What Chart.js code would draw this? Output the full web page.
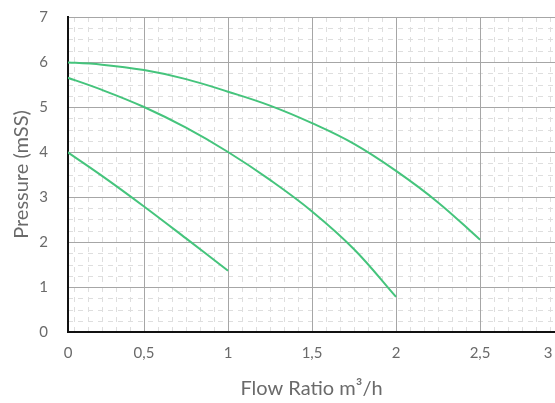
<!DOCTYPE html>
<html>
<head>
<meta charset="utf-8">
<script src="https://cdn.jsdelivr.net/npm/chart.js@4.4.0/dist/chart.umd.min.js"></script>
<style>
  html, body { margin: 0; padding: 0; background: #fff; }
</style>
</head>
<body>
<canvas id="myChart" width="555" height="403"></canvas>
<script>
// pump curves, flow in m3/h, pressure in mSS
const flowA = [0, 0.25, 0.5, 0.75, 1, 1.25, 1.5, 1.75, 2, 2.25, 2.5];
const pressA = [6.0, 5.94, 5.82, 5.62, 5.34, 5.03, 4.64, 4.18, 3.58, 2.88, 2.05];
const flowB = [0, 0.25, 0.5, 0.75, 1, 1.25, 1.5, 1.75, 2];
const pressB = [5.71, 5.38, 5.0, 4.54, 4.0, 3.38, 2.68, 1.84, 0.78];
const flowC = [0, 0.25, 0.5, 0.75, 1];
const pressC = [4.11, 3.47, 2.79, 2.08, 1.36];

const xTickLabels = ['0', '0,5', '1', '1,5', '2', '2,5', '3'];
const xMin = 0.0476, xMax = 2.946;
const xTickValues = [xMin, 0.5, 1, 1.5, 2, 2.5, 2.905];

const lineColor = '#45c47c';
const textColor = '#6a6a6a';
const fontName = 'Lato';

function curve(xs, ys) {
    return {
        data: xs.map((x, i) => ({ x: x, y: ys[i] })),
        borderColor: lineColor,
        borderWidth: 2,
        pointRadius: 0,
        fill: false,
        tension: 0.4
    };
}

// light dashed texture behind the grid
const texture = {
    id: 'texture',
    beforeDraw(chart) {
        const { ctx, chartArea: a, scales: { x, y } } = chart;
        ctx.save();
        ctx.beginPath();
        ctx.rect(a.left, a.top, a.right - a.left, a.bottom - a.top);
        ctx.clip();
        ctx.strokeStyle = '#dedede';
        ctx.lineWidth = 1;
        ctx.setLineDash([5, 5]);
        for (let v = 0; v <= 3; v += 1 / 12) {
            const px = Math.round(x.getPixelForValue(v)) + 0.5;
            ctx.beginPath(); ctx.moveTo(px, a.top); ctx.lineTo(px, a.bottom); ctx.stroke();
        }
        for (let v = 0; v <= 7; v += 0.25) {
            const py = Math.round(y.getPixelForValue(v)) + 0.5;
            ctx.beginPath(); ctx.moveTo(a.left, py); ctx.lineTo(a.right, py); ctx.stroke();
        }
        ctx.restore();
    }
};

const ctx = document.getElementById('myChart').getContext('2d');
const myChart = new Chart(ctx, {
    type: 'line',
    data: {
        datasets: [curve(flowA, pressA), curve(flowB, pressB), curve(flowC, pressC)]
    },
    plugins: [texture],
    options: {
        responsive: false,
        animation: false,
        devicePixelRatio: 1,
        layout: { padding: { top: 17, left: 0, right: 0, bottom: 0 } },
        plugins: { legend: { display: false }, tooltip: { enabled: false } },
        scales: {
            x: {
                type: 'linear',
                min: xMin,
                max: xMax,
                afterBuildTicks: s => { s.ticks = xTickValues.map(v => ({ value: v })); },
                afterFit: s => { s.height = 71; s.paddingLeft = 0; s.paddingRight = 0; },
                ticks: {
                    autoSkip: false,
                    maxRotation: 0,
                    padding: 12,
                    color: textColor,
                    font: { family: fontName, size: 15 },
                    callback: (v, i) => xTickLabels[i]
                },
                grid: {
                    color: c => (c.index === 0 || c.index === xTickValues.length - 1) ? 'rgba(0,0,0,0)' : '#a6a6a6',
                    drawTicks: false
                },
                border: { color: '#111', width: 2 },
                title: {
                    display: true,
                    text: 'Flow Ratio m³/h',
                    color: textColor,
                    font: { family: fontName, size: 20 },
                    padding: { top: 0, bottom: 2 }
                }
            },
            y: {
                min: 0,
                max: 7,
                afterFit: s => { s.width = 68; s.paddingTop = 0; s.paddingBottom = 0; },
                ticks: {
                    stepSize: 1,
                    padding: 20,
                    color: textColor,
                    font: { family: fontName, size: 15 }
                },
                grid: { color: '#a6a6a6', drawTicks: false },
                border: { color: '#111', width: 2 },
                title: {
                    display: true,
                    text: 'Pressure (mSS)',
                    color: textColor,
                    font: { family: fontName, size: 20 },
                    padding: { top: 10, bottom: 0 }
                }
            }
        }
    }
});
</script>
</body>
</html>
